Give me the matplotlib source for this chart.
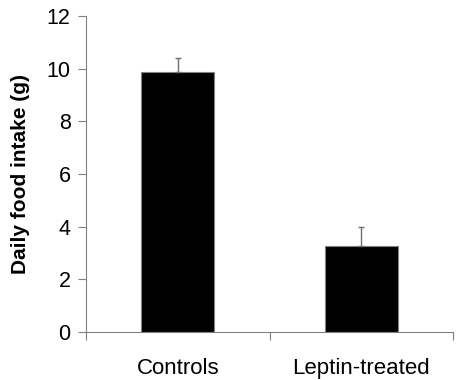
import matplotlib
matplotlib.use("Agg")
import matplotlib.pyplot as plt

# data
groups = ["Controls", "Leptin-treated"]
intake = [9.87, 3.27]
err_up = [0.53, 0.72]
yticks = [0, 2, 4, 6, 8, 10, 12]

plt.rcParams['font.family'] = ['Liberation Sans', 'DejaVu Sans']

fig = plt.figure(figsize=(4.61, 3.8), dpi=100)
ax = fig.add_axes([0.1866, 0.1263, 0.796, 0.8316])

pos = list(range(len(groups)))
ax.bar(pos, intake, width=0.4, color='black', edgecolor='#808080', linewidth=0.8, zorder=2)
ax.errorbar(pos, intake, yerr=[[0] * len(err_up), err_up], fmt='none',
            ecolor='#707070', elinewidth=1.0, capsize=2, capthick=1.0, zorder=3)

ax.set_xlim(-0.5, len(groups) - 0.5)
ax.set_ylim(0, 12)
ax.set_yticks(yticks)
ax.set_yticklabels([str(t) for t in yticks])

# category boundaries as major ticks, names as minor ticks
ax.set_xticks([i - 0.5 for i in range(len(groups) + 1)])
ax.set_xticklabels([])
ax.set_xticks(pos, minor=True)
ax.set_xticklabels(groups, minor=True)
ax.tick_params(axis='x', which='minor', length=0, pad=19, labelsize=16)
ax.tick_params(axis='x', which='major', length=6, color='#808080', width=0.8)
ax.tick_params(axis='y', length=6, color='#808080', width=0.8, labelsize=15.5, pad=5)

for side in ['top', 'right']:
    ax.spines[side].set_visible(False)
for side in ['left', 'bottom']:
    ax.spines[side].set_color('#808080')
    ax.spines[side].set_linewidth(0.8)

ax.set_ylabel("Daily food intake (g)", fontsize=15, fontweight='bold', labelpad=12)

fig.savefig("out.png", dpi=100)
